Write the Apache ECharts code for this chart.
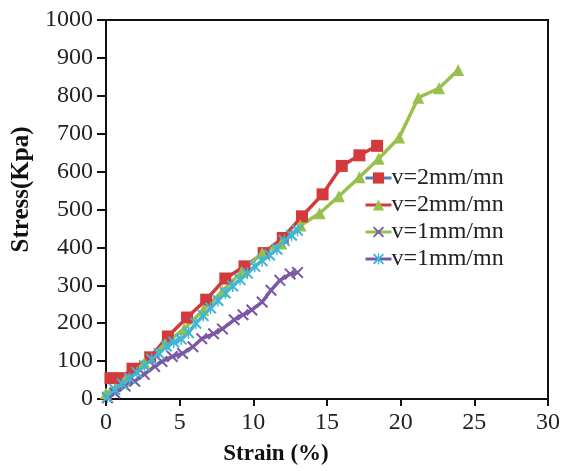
<!DOCTYPE html>
<html><head><meta charset="utf-8">
<script src="https://cdn.jsdelivr.net/npm/echarts@6/dist/echarts.min.js"></script>
<style>html,body{margin:0;padding:0;background:#fff}#c{width:563px;height:471px}</style>
</head><body><div id="c"></div>
<script>
// Data (strain %, stress kPa)
var redSquares = [[0.3,55],[1.0,55],[1.8,80],[3.0,110],[4.2,165],[5.5,215],[6.8,262],[8.1,318],[9.4,350],[10.7,385],[12.0,425],[13.3,482],[14.7,540],[16.0,615],[17.2,643],[18.4,668]];
var greenTriangles = [[0.0,15],[1.3,50],[2.6,95],[4.0,145],[5.3,185],[6.6,235],[7.9,285],[9.2,335],[10.6,385],[11.9,410],[13.2,458],[14.5,490],[15.8,535],[17.2,585],[18.5,634],[19.9,690],[21.2,795],[22.6,820],[23.9,868]];
var purpleCross = [[0.1,3],[0.6,16],[1.3,34],[1.95,47],[2.6,65],[3.3,86],[3.8,99],[4.5,112],[5.2,120],[5.9,138],[6.5,159],[7.3,172],[7.9,185],[8.7,209],[9.3,222],[9.9,235],[10.6,256],[11.2,287],[11.8,313],[12.5,330],[13.0,334]];
var cyanStar = [[0.1,5],[0.6,25],[1.1,40],[1.6,55],[2.1,70],[2.6,88],[3.1,105],[3.6,120],[4.1,140],[4.6,150],[5.1,158],[5.6,175],[6.1,200],[6.6,220],[7.1,240],[7.6,260],[8.1,280],[8.6,298],[9.1,315],[9.6,332],[10.1,350],[10.6,365],[11.1,380],[11.6,395],[12.1,418],[12.6,432],[13.0,445]];
var seriesLabels = ['v=2mm/mn','v=2mm/mn','v=1mm/mn','v=1mm/mn'];
var xTitle = 'Strain (%)';
var yTitle = 'Stress(Kpa)';

var RED='#d23a3c', GREEN='#97c04c', PURPLE='#7b58a6', CYAN='#3fb6d6', BLUE='#4f81bd';
var X_PATH='path://M0,1.2L1.2,0L5,3.8L8.8,0L10,1.2L6.2,5L10,8.8L8.8,10L5,6.2L1.2,10L0,8.8L3.8,5Z';
var STAR_PATH='path://M0,1.2L1.2,0L5,3.8L8.8,0L10,1.2L6.2,5L10,8.8L8.8,10L5,6.2L1.2,10L0,8.8L3.8,5Z M4.4,0L5.6,0L5.6,10L4.4,10Z';
var FONT='Liberation Serif';

var chart = echarts.init(document.getElementById('c'), null, {renderer:'canvas'});
function mk(name, data, color, symbol, size){
  return {name:name, type:'line', data:data, symbol:symbol, symbolSize:size, showSymbol:true,
    lineStyle:{color:color, width:3.5}, itemStyle:{color:color}, animation:false, z:2};
}
chart.setOption({
  animation:false,
  grid:{left:106, right:11, top:20, bottom:68, show:true, borderColor:'#111', borderWidth:2, backgroundColor:'transparent'},
  xAxis:{type:'value', min:0, max:30, interval:5,
    name:xTitle, nameLocation:'middle', nameGap:44,
    nameTextStyle:{fontFamily:FONT, fontWeight:'bold', fontSize:23, color:'#111', padding:[0,102,0,0]},
    axisLine:{show:true, lineStyle:{color:'#111', width:2}},
    axisTick:{show:true, inside:false, length:7, lineStyle:{color:'#111', width:2}},
    axisLabel:{fontFamily:FONT, fontSize:24, color:'#222', margin:12, formatter:function(v){return String(v);}},
    splitLine:{show:false}},
  yAxis:{type:'value', min:0, max:1000, interval:100,
    name:yTitle, nameLocation:'middle', nameGap:71,
    nameTextStyle:{fontFamily:FONT, fontWeight:'bold', fontSize:25, color:'#111', padding:[0,0,0,40]},
    axisLine:{show:true, lineStyle:{color:'#111', width:2}},
    axisTick:{show:true, inside:false, length:9, lineStyle:{color:'#111', width:2}},
    axisLabel:{fontFamily:FONT, fontSize:24, color:'#222', margin:13, formatter:function(v){return String(v);}},
    splitLine:{show:false}},
  legend:{left:359, top:161, orient:'vertical', itemWidth:26, itemHeight:14, itemGap:3,
    textStyle:{fontFamily:FONT, fontSize:24, color:'#222', padding:[0,0,0,-5], lineHeight:21},
    formatter:function(n){return {s1:seriesLabels[0],s2:seriesLabels[1],s3:seriesLabels[2],s4:seriesLabels[3]}[n];},
    data:[
      {name:'s1', itemStyle:{color:RED}, lineStyle:{color:BLUE, width:3}},
      {name:'s2', itemStyle:{color:GREEN}, lineStyle:{color:RED, width:3}},
      {name:'s3', itemStyle:{color:PURPLE}, lineStyle:{color:GREEN, width:3}},
      {name:'s4', itemStyle:{color:CYAN}, lineStyle:{color:PURPLE, width:3}}
    ]},
  series:[
    mk('s1', redSquares, RED, 'rect', 12),
    mk('s2', greenTriangles, GREEN, 'triangle', 12),
    mk('s3', purpleCross, PURPLE, X_PATH, 12),
    mk('s4', cyanStar, CYAN, STAR_PATH, 12)
  ]
});
</script></body></html>
